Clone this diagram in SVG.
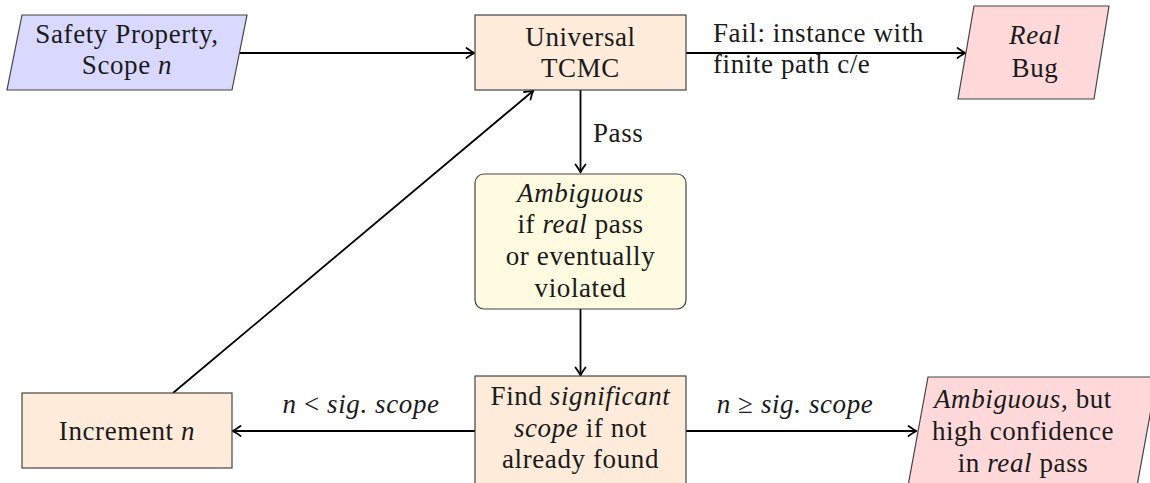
<svg xmlns="http://www.w3.org/2000/svg" width="1150" height="483" viewBox="0 0 1150 483">
<style>
text{font-family:'Liberation Serif','Times New Roman',serif;font-size:27px;letter-spacing:0.6px;fill:#1a1a1a;text-anchor:middle}
.it{font-style:italic}
.l{text-anchor:start}
.box{stroke:#444;stroke-width:1.2}
.blue{fill:#d9d9ff}
.orange{fill:#ffebd9}
.yellow{fill:#fefbe0}
.red{fill:#ffd9d9}
.edge{fill:none;stroke:#000;stroke-width:1.8;marker-end:url(#arr)}
</style>
<defs>
<marker id="arr" markerUnits="userSpaceOnUse" markerWidth="14" markerHeight="14" refX="0" refY="0" viewBox="-10 -7 12 14" orient="auto" overflow="visible">
<path d="M -7.5 -5 Q -2 -1 0.5 0 Q -2 1 -7.5 5" fill="none" stroke="#000" stroke-width="1.8" stroke-linecap="round" stroke-linejoin="round"/>
</marker>
</defs>
<rect x="0" y="0" width="1150" height="483" fill="#ffffff"/>
<g id="connectors">
<line class="edge" x1="232" y1="53" x2="474" y2="53"/>
<line class="edge" x1="686" y1="53" x2="965" y2="53"/>
<line class="edge" x1="580.5" y1="90" x2="580.5" y2="172"/>
<line class="edge" x1="580.5" y1="309" x2="580.5" y2="375"/>
<line class="edge" x1="475" y1="431" x2="233" y2="431"/>
<line class="edge" x1="686" y1="431" x2="916" y2="431"/>
<line class="edge" x1="173" y1="393" x2="533" y2="91"/>
<text font-family="Liberation Serif" class="l" x="713" y="42">Fail: instance with</text>
<text font-family="Liberation Serif" class="l" x="713" y="73">finite path c/e</text>
<text font-family="Liberation Serif" class="l" x="593" y="142">Pass</text>
<text font-family="Liberation Serif" x="361" y="413"><tspan class="it">n</tspan> &lt; <tspan class="it">sig.  scope</tspan></text>
<text font-family="Liberation Serif" x="795" y="413"><tspan class="it">n</tspan> ≥ <tspan class="it">sig.  scope</tspan></text>
</g>
<g id="safety">
<polygon class="box blue" points="22,15 247,15 232,90 7,90"/>
<text font-family="Liberation Serif" x="127" y="43">Safety Property,</text>
<text font-family="Liberation Serif" x="127" y="74">Scope <tspan class="it">n</tspan></text>
</g>
<g id="tcmc">
<rect class="box orange" x="475" y="15" width="211" height="75"/>
<text font-family="Liberation Serif" x="580.5" y="46">Universal</text>
<text font-family="Liberation Serif" x="580.5" y="77">TCMC</text>
</g>
<g id="realbug">
<polygon class="box red" points="974,6 1109,6 1094,99 958,99"/>
<text font-family="Liberation Serif" x="1035" y="44" class="it">Real</text>
<text font-family="Liberation Serif" x="1035" y="77">Bug</text>
</g>
<g id="ambiguous">
<rect class="box yellow" x="475" y="174" width="211" height="135" rx="9"/>
<text font-family="Liberation Serif" x="580.5" y="202" class="it">Ambiguous</text>
<text font-family="Liberation Serif" x="580.5" y="233">if <tspan class="it">real</tspan> pass</text>
<text font-family="Liberation Serif" x="580.5" y="265">or eventually</text>
<text font-family="Liberation Serif" x="580.5" y="297">violated</text>
</g>
<g id="increment">
<rect class="box orange" x="22" y="393" width="210" height="75"/>
<text font-family="Liberation Serif" x="127" y="440">Increment <tspan class="it">n</tspan></text>
</g>
<g id="findscope">
<rect class="box orange" x="475" y="376" width="211" height="120"/>
<text font-family="Liberation Serif" x="580.5" y="405">Find <tspan class="it">significant</tspan></text>
<text font-family="Liberation Serif" x="580.5" y="437"><tspan class="it">scope</tspan> if not</text>
<text font-family="Liberation Serif" x="580.5" y="468">already found</text>
</g>
<g id="highconf">
<polygon class="box red" points="928,377 1157,377 1135,497 906,497"/>
<text font-family="Liberation Serif" x="1023" y="408"><tspan class="it">Ambiguous</tspan>, but</text>
<text font-family="Liberation Serif" x="1023" y="440">high confidence</text>
<text font-family="Liberation Serif" x="1023" y="472">in <tspan class="it">real</tspan> pass</text>
</g>
</svg>
